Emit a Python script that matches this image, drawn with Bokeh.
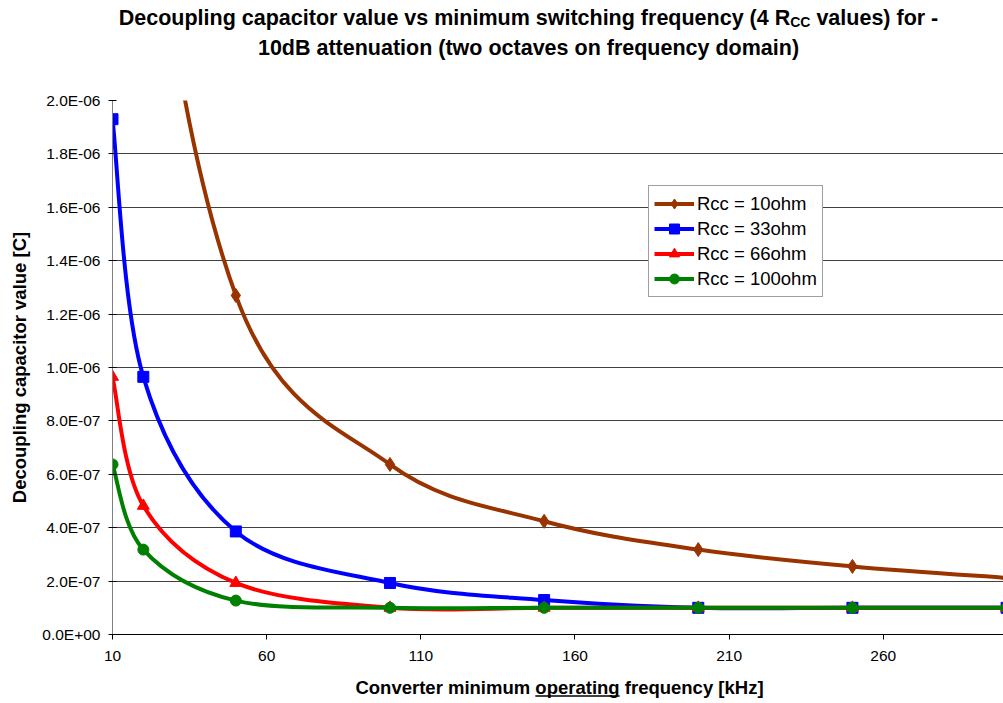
from bokeh.plotting import figure
from bokeh.models import Range1d, FixedTicker, Legend, LegendItem, ColumnDataSource
from bokeh.layouts import column
from bokeh.embed import file_html
from bokeh.resources import INLINE
from bokeh.core.properties import value

# ---------------- data ----------------
freq_khz = [10, 20, 50, 100, 150, 200, 250, 300]
c_rcc10 = [6.37e-6, 3.18e-6, 1.27e-6, 6.37e-7, 4.24e-7, 3.18e-7, 2.55e-7, 2.12e-7]
c_rcc33 = [1.93e-6, 9.65e-7, 3.86e-7, 1.93e-7, 1.29e-7, 1.0e-7, 1.0e-7, 1.0e-7]
c_rcc66 = [9.65e-7, 4.82e-7, 1.93e-7, 1.0e-7, 1.0e-7, 1.0e-7, 1.0e-7, 1.0e-7]
c_rcc100 = [6.37e-7, 3.18e-7, 1.27e-7, 1.0e-7, 1.0e-7, 1.0e-7, 1.0e-7, 1.0e-7]
series_labels = ["Rcc = 10ohm", "Rcc = 33ohm", "Rcc = 66ohm", "Rcc = 100ohm"]
x_ticks = [10, 60, 110, 160, 210, 260]
y_ticks = [0.0, 2.0e-7, 4.0e-7, 6.0e-7, 8.0e-7, 1.0e-6, 1.2e-6, 1.4e-6, 1.6e-6, 1.8e-6, 2.0e-6]
y_tick_labels = ["0.0E+00", "2.0E-07", "4.0E-07", "6.0E-07", "8.0E-07", "1.0E-06",
                 "1.2E-06", "1.4E-06", "1.6E-06", "1.8E-06", "2.0E-06"]
title_a = "Decoupling capacitor value vs minimum switching frequency (4 R"
title_sub = "CC"
title_b = "values) for -"
title_2 = "10dB attenuation (two octaves on frequency domain)"
xlabel_a = "Converter minimum "
xlabel_u = "operating"
xlabel_b = " frequency [kHz]"
ylabel = "Decoupling capacitor value [C]"

FONT = "Liberation Sans"
colors = ["#993300", "#0000FF", "#FF0000", "#008000"]
markers = ["diamond", "square", "triangle", "circle"]
msizes = [14, 11, 12, 11]

# Arial/Liberation Sans Bold advance widths (per 1000 em)
BOLD_W = {' ': 278, '(': 333, ')': 333, '-': 333, '[': 333, ']': 333,
          'A': 722, 'B': 722, 'C': 722, 'D': 722, 'H': 722, 'R': 722,
          'a': 556, 'b': 611, 'c': 556, 'd': 611, 'e': 556, 'f': 333, 'g': 611,
          'h': 611, 'i': 278, 'k': 556, 'l': 278, 'm': 889, 'n': 611, 'o': 611,
          'p': 611, 'q': 611, 'r': 389, 's': 556, 't': 333, 'u': 611, 'v': 556,
          'w': 778, 'y': 556, 'z': 500}


def text_w(s, size):
    return sum(BOLD_W.get(ch, 556) for ch in s) * size / 1000.0


def smooth_segments(xs, ys):
    n = len(xs)
    d = dict(x0=[], y0=[], x1=[], y1=[], cx0=[], cy0=[], cx1=[], cy1=[])
    for i in range(n - 1):
        a = i - 1 if i > 0 else i
        b = i + 2 if i + 2 < n else i + 1
        d["x0"].append(xs[i]); d["y0"].append(ys[i])
        d["x1"].append(xs[i + 1]); d["y1"].append(ys[i + 1])
        d["cx0"].append(xs[i] + (xs[i + 1] - xs[a]) / 6.0)
        d["cy0"].append(ys[i] + (ys[i + 1] - ys[a]) / 6.0)
        d["cx1"].append(xs[i + 1] - (xs[b] - xs[i]) / 6.0)
        d["cy1"].append(ys[i + 1] - (ys[b] - ys[i]) / 6.0)
    return d


W = 1003
FL = 112  # frame left (page px); all three figures share this frame alignment

# ---------------- title figure (page px 0..90) ----------------
pt = figure(width=W, height=90, x_range=Range1d(FL, W), y_range=Range1d(90, 0),
            toolbar_location=None, output_backend="svg",
            min_border_left=FL, min_border_right=0, min_border_top=0, min_border_bottom=0,
            x_axis_location=None, y_axis_location=None, outline_line_color=None)
pt.grid.visible = False
TS = 21.5
SUB = 14
title_cx = 528
w_line1 = text_w(title_a, TS) + text_w(title_sub, SUB) + text_w(" " + title_b, TS)
xr = title_cx - w_line1 / 2 + text_w(title_a, TS)
tkw = dict(text_font=value(FONT), text_font_style="bold", text_baseline="alphabetic",
           text_color="black")
pt.text(x=[xr], y=[17.5], text=[title_a], text_font_size=f"{TS}px", text_align="right", **tkw)
pt.text(x=[xr], y=[21.5], text=[title_sub], text_font_size=f"{SUB}px", text_align="left", **tkw)
pt.text(x=[xr + text_w(title_sub, SUB) + text_w(" ", TS)], y=[17.5], text=[title_b],
        text_font_size=f"{TS}px", text_align="left", **tkw)
pt.text(x=[title_cx], y=[47], text=[title_2], text_font_size=f"{TS}px", text_align="center", **tkw)

# ---------------- main figure (page px 90..670, frame 100..634) ----------------
p = figure(width=W, height=580, x_range=Range1d(10, 299), y_range=Range1d(0, 2.0e-6),
           toolbar_location=None, output_backend="svg",
           min_border_left=FL, min_border_right=0, min_border_top=10, min_border_bottom=36,
           outline_line_color=None)
p.extra_y_ranges = {"legend_proxy": Range1d(1.0, 2.0)}

p.xgrid.visible = False
p.ygrid.ticker = FixedTicker(ticks=y_ticks)
p.ygrid.grid_line_color = "#404040"
p.ygrid.grid_line_width = 1

p.xaxis.ticker = FixedTicker(ticks=x_ticks)
p.xaxis.axis_line_color = "black"
p.xaxis.major_tick_line_color = "black"
p.xaxis.major_tick_out = 5
p.xaxis.major_tick_in = 0
p.xaxis.minor_tick_out = 0
p.xaxis.minor_tick_in = 0
p.xaxis.major_label_standoff = 11
p.xaxis.major_label_text_font = FONT
p.xaxis.major_label_text_font_size = "15.5px"
p.xaxis.major_label_text_color = "black"

p.yaxis.ticker = FixedTicker(ticks=y_ticks)
p.yaxis.major_label_overrides = dict(zip(y_ticks, y_tick_labels))
p.yaxis.axis_line_color = "#808080"
p.yaxis.major_tick_line_color = "black"
p.yaxis.major_tick_out = 4
p.yaxis.major_tick_in = 4
p.yaxis.minor_tick_out = 0
p.yaxis.minor_tick_in = 0
p.yaxis.major_label_standoff = 8
p.yaxis.major_label_text_font = FONT
p.yaxis.major_label_text_font_size = "15.5px"
p.yaxis.major_label_text_color = "black"
p.yaxis.axis_label = ylabel
p.yaxis.axis_label_text_font = FONT
p.yaxis.axis_label_text_font_style = "bold"
p.yaxis.axis_label_text_font_size = "18.5px"
p.yaxis.axis_label_text_color = "black"
p.yaxis.axis_label_standoff = 9

items = []
for ys, col, mk, ms, lab in zip([c_rcc10, c_rcc33, c_rcc66, c_rcc100], colors, markers, msizes, series_labels):
    src = ColumnDataSource(smooth_segments(freq_khz, ys))
    p.bezier(x0="x0", y0="y0", x1="x1", y1="y1", cx0="cx0", cy0="cy0", cx1="cx1", cy1="cy1",
             source=src, line_color=col, line_width=4, line_cap="round")
    # legend proxy: same data on a range that puts it outside the frame (only the legend shows it)
    leg_line = p.line(x=freq_khz, y=ys, y_range_name="legend_proxy", line_color=col, line_width=4)
    sc = p.scatter(x=freq_khz, y=ys, marker=mk, size=ms, fill_color=col, line_color=col)
    items.append(LegendItem(label=lab, renderers=[leg_line, sc]))

legend = Legend(items=items, location=(536, 337))
legend.label_text_font = FONT
legend.label_text_font_size = "18.5px"
legend.label_text_color = "black"
legend.glyph_width = 40
legend.glyph_height = 25
legend.label_height = 25
legend.label_standoff = 3
legend.spacing = 0
legend.padding = 5
legend.margin = 0
legend.border_line_color = "#404040"
legend.border_line_width = 1
legend.background_fill_color = "white"
legend.background_fill_alpha = 1.0
p.add_layout(legend)

# ---------------- x-axis label figure (page px 670..703) ----------------
pb = figure(width=W, height=33, x_range=Range1d(FL, W), y_range=Range1d(703, 670),
            toolbar_location=None, output_backend="svg",
            min_border_left=FL, min_border_right=0, min_border_top=0, min_border_bottom=0,
            x_axis_location=None, y_axis_location=None, outline_line_color=None)
pb.grid.visible = False
XS = 18.5
xlab_cx = 559
full = xlabel_a + xlabel_u + xlabel_b
pb.text(x=[xlab_cx], y=[687], text=[full], text_font_size=f"{XS}px", text_align="center", **tkw)
u0 = xlab_cx - text_w(full, XS) / 2 + text_w(xlabel_a, XS)
u1 = u0 + text_w(xlabel_u, XS)
pb.segment(x0=[u0], y0=[695.5], x1=[u1], y1=[695.5], line_color="black", line_width=1.5)

layout = column(pt, p, pb, spacing=0)
open("out.html", "w").write(file_html(layout, INLINE))
